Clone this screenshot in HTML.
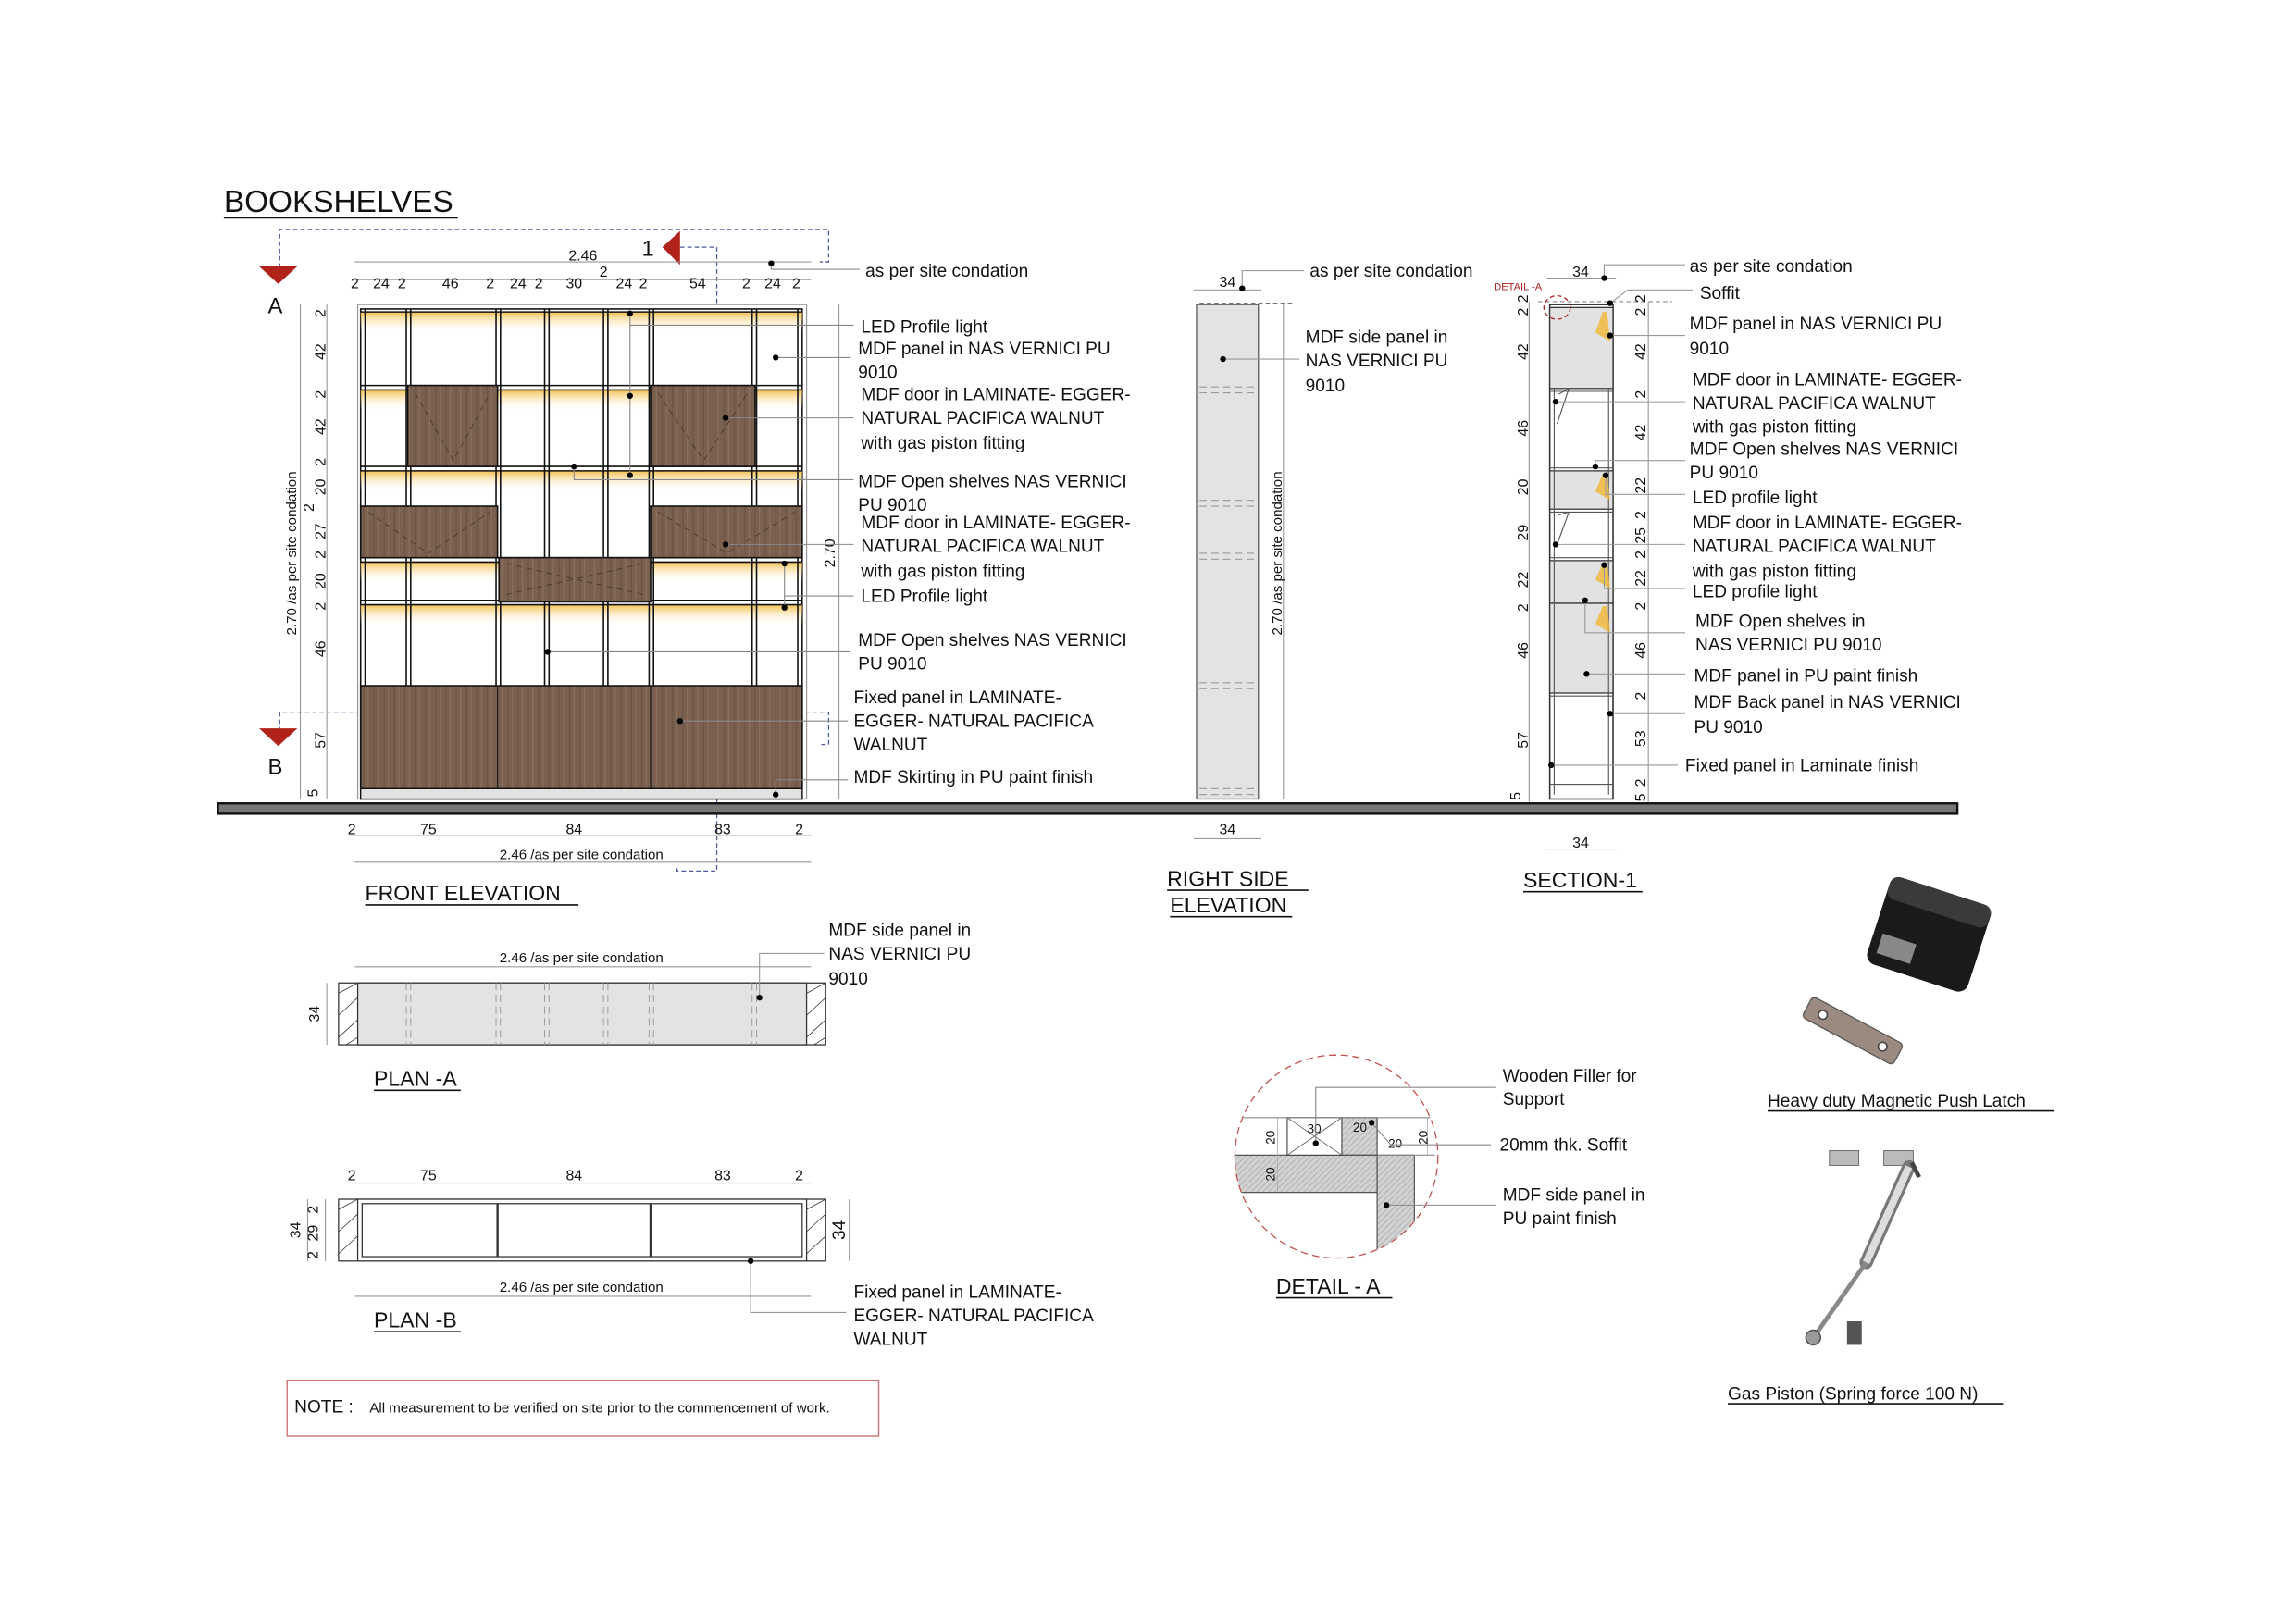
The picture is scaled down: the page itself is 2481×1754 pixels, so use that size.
<!DOCTYPE html>
<html><head><meta charset="utf-8"><style>
html,body{margin:0;padding:0;background:#fff}
svg{display:block}
text{font-family:"Liberation Sans",sans-serif;fill:#111}
</style></head><body>
<svg width="2481" height="1754" viewBox="0 0 1560 1103" xmlns="http://www.w3.org/2000/svg">
<defs>
<linearGradient id="led" x1="0" y1="0" x2="0" y2="1"><stop offset="0" stop-color="#f3c04f"/><stop offset="1" stop-color="#fff" stop-opacity="0"/></linearGradient>
<pattern id="wood" width="7" height="40" patternUnits="userSpaceOnUse"><rect width="7" height="40" fill="#7a604f"/><line x1="2" y1="0" x2="2" y2="40" stroke="#6a5242" stroke-width="0.7"/><line x1="5" y1="0" x2="5" y2="40" stroke="#8a6f5d" stroke-width="0.8"/></pattern>
<pattern id="hatch" width="4" height="4" patternUnits="userSpaceOnUse"><rect width="4" height="4" fill="#d2d2d2"/><line x1="0" y1="4" x2="4" y2="0" stroke="#aaa" stroke-width="0.5"/></pattern>
<clipPath id="circ"><circle cx="908" cy="786" r="69"/></clipPath>
</defs>

<text x="152" y="144" font-size="21">BOOKSHELVES</text>
<line x1="152" y1="148" x2="311" y2="148" stroke="#111" stroke-width="1.2"/>

<g stroke="#4a5a9a" stroke-width="0.8" stroke-dasharray="3,2" fill="none">
<polyline points="190,182 190,156 563,156 563,178 557,178"/>
<polyline points="462,168 487,168 487,592 460,592 460,588"/>
<polyline points="190,497 190,484 563,484 563,506 557,506"/>
</g>
<polygon points="176,181 202,181 189,193" fill="#b0221a"/>
<text x="182" y="213" font-size="15">A</text>
<polygon points="176,495 202,495 189,507" fill="#b0221a"/>
<text x="182" y="526" font-size="15">B</text>
<polygon points="450,168 462,157 462,180" fill="#b0221a"/>
<text x="436" y="174" font-size="15">1</text>

<rect x="148" y="546" width="1182" height="7" fill="#777" stroke="#111" stroke-width="1.5"/>

<rect x="243" y="207" width="305" height="336" fill="#fff" stroke="#999" stroke-width="0.8"/>
<rect x="245" y="210" width="300" height="333" fill="#fff" stroke="#111" stroke-width="1"/>
<g fill="url(#led)">
<rect x="245" y="212" width="300" height="14"/>
<rect x="245" y="265" width="300" height="14"/>
<rect x="245" y="320" width="300" height="14"/>
<rect x="245" y="382" width="300" height="14"/>
<rect x="245" y="411" width="300" height="14"/>
</g>
<g stroke="#111" stroke-width="1">
<line x1="245" y1="262" x2="545" y2="262"/><line x1="245" y1="265" x2="545" y2="265"/>
<line x1="245" y1="317" x2="545" y2="317"/><line x1="245" y1="320" x2="545" y2="320"/>
<line x1="245" y1="379" x2="545" y2="379"/><line x1="245" y1="382" x2="545" y2="382"/>
<line x1="245" y1="408" x2="545" y2="408"/><line x1="245" y1="411" x2="545" y2="411"/>
<line x1="245" y1="212" x2="545" y2="212"/>
</g>
<g stroke="#111" stroke-width="1">
<line x1="276" y1="210" x2="276" y2="466"/><line x1="279" y1="210" x2="279" y2="466"/>
<line x1="337" y1="210" x2="337" y2="466"/><line x1="340" y1="210" x2="340" y2="466"/>
<line x1="370" y1="210" x2="370" y2="466"/><line x1="373" y1="210" x2="373" y2="466"/>
<line x1="410" y1="210" x2="410" y2="466"/><line x1="413" y1="210" x2="413" y2="466"/>
<line x1="441" y1="210" x2="441" y2="466"/><line x1="444" y1="210" x2="444" y2="466"/>
<line x1="511" y1="210" x2="511" y2="466"/><line x1="514" y1="210" x2="514" y2="466"/>
<line x1="248" y1="210" x2="248" y2="466"/><line x1="542" y1="210" x2="542" y2="466"/>
</g>
<g fill="url(#wood)" stroke="#111" stroke-width="1">
<rect x="277" y="262" width="61" height="55"/>
<rect x="442" y="262" width="71" height="55"/>
<rect x="245" y="344" width="93" height="35"/>
<rect x="442" y="344" width="103" height="35"/>
<rect x="339" y="379" width="103" height="30"/>
<rect x="245" y="466" width="300" height="70"/>
</g>
<g stroke="#3a2a20" stroke-width="0.6" stroke-dasharray="4,3" fill="none" opacity="0.7">
<polyline points="282,267 308,313 333,267"/><polyline points="447,267 478,313 508,267"/>
<polyline points="250,348 291,376 333,348"/><polyline points="447,348 494,376 540,348"/>
<polyline points="344,383 437,404"/><polyline points="344,404 437,383"/>
</g>
<line x1="338" y1="466" x2="338" y2="536" stroke="#222" stroke-width="0.8"/>
<line x1="442" y1="466" x2="442" y2="536" stroke="#222" stroke-width="0.8"/>
<rect x="245" y="536" width="300" height="7" fill="#e2e2e2" stroke="#111" stroke-width="0.8"/>

<g stroke="#999" stroke-width="0.7" fill="none">
<line x1="241" y1="178" x2="551" y2="178"/>
<line x1="241" y1="190" x2="551" y2="190"/>
<line x1="204" y1="207" x2="204" y2="543"/>
<line x1="222" y1="207" x2="222" y2="543"/>
<line x1="570" y1="207" x2="570" y2="543"/>
<line x1="237" y1="568" x2="551" y2="568"/>
<line x1="241" y1="586" x2="551" y2="586"/>
</g>
<g font-size="10" text-anchor="middle">
<text x="396" y="177">2.46</text>
<text x="410" y="188">2</text>
<text x="241" y="196">2</text><text x="259" y="196">24</text><text x="273" y="196">2</text>
<text x="306" y="196">46</text><text x="333" y="196">2</text><text x="352" y="196">24</text><text x="366" y="196">2</text>
<text x="390" y="196">30</text><text x="424" y="196">24</text><text x="437" y="196">2</text>
<text x="474" y="196">54</text><text x="507" y="196">2</text><text x="525" y="196">24</text><text x="541" y="196">2</text>
<text x="239" y="567">2</text><text x="291" y="567">75</text><text x="390" y="567">84</text><text x="491" y="567">83</text><text x="543" y="567">2</text>
<text x="395" y="584" font-size="9.5">2.46  /as per site condation</text>
</g>
<g font-size="10" text-anchor="middle">
<text transform="translate(201,376) rotate(-90)" font-size="9.5">2.70 /as per site condation</text>
<text transform="translate(567,376) rotate(-90)">2.70</text>
<text transform="translate(221,213) rotate(-90)">2</text>
<text transform="translate(221,239) rotate(-90)">42</text>
<text transform="translate(221,268) rotate(-90)">2</text>
<text transform="translate(221,290) rotate(-90)">42</text>
<text transform="translate(221,314) rotate(-90)">2</text>
<text transform="translate(221,331) rotate(-90)">20</text>
<text transform="translate(213,345) rotate(-90)">2</text>
<text transform="translate(221,361) rotate(-90)">27</text>
<text transform="translate(221,377) rotate(-90)">2</text>
<text transform="translate(221,395) rotate(-90)">20</text>
<text transform="translate(221,412) rotate(-90)">2</text>
<text transform="translate(221,441) rotate(-90)">46</text>
<text transform="translate(221,503) rotate(-90)">57</text>
<text transform="translate(216,539) rotate(-90)">5</text>
</g>
<text x="248" y="612" font-size="14.5">FRONT  ELEVATION</text>
<line x1="248" y1="615" x2="393" y2="615" stroke="#111"/>

<g stroke="#888" stroke-width="0.7" fill="none">
<polyline points="524,179 524,183 584,183"/>
<polyline points="428,213 428,221 580,221"/><line x1="428" y1="221" x2="428" y2="323"/>
<line x1="527" y1="243" x2="578" y2="243"/>
<line x1="493" y1="284" x2="580" y2="284"/>
<polyline points="390,317 390,326 580,326"/>
<line x1="493" y1="370" x2="580" y2="370"/>
<polyline points="533,383 533,405 580,405"/><line x1="533" y1="405" x2="533" y2="413"/>
<line x1="372" y1="443" x2="578" y2="443"/>
<line x1="462" y1="490" x2="576" y2="490"/>
<polyline points="527,540 527,530 576,530"/>
</g>
<g fill="#000">
<circle cx="524" cy="179" r="2"/><circle cx="428" cy="213" r="2"/><circle cx="428" cy="269" r="2"/><circle cx="428" cy="323" r="2"/>
<circle cx="527" cy="243" r="2"/><circle cx="493" cy="284" r="2"/><circle cx="390" cy="317" r="2"/><circle cx="493" cy="370" r="2"/>
<circle cx="533" cy="383" r="2"/><circle cx="533" cy="413" r="2"/><circle cx="372" cy="443" r="2"/><circle cx="462" cy="490" r="2"/><circle cx="527" cy="540" r="2"/>
</g>
<g font-size="12">
<text x="588" y="188">as per site condation</text>
<text x="585" y="226">LED Profile light</text>
<text x="583" y="241">MDF panel in NAS VERNICI PU</text><text x="583" y="257">9010</text>
<text x="585" y="272">MDF door in LAMINATE- EGGER-</text><text x="585" y="288">NATURAL PACIFICA WALNUT</text><text x="585" y="305">with gas piston fitting</text>
<text x="583" y="331">MDF Open shelves NAS VERNICI</text><text x="583" y="347">PU 9010</text>
<text x="585" y="359">MDF door in LAMINATE- EGGER-</text><text x="585" y="375">NATURAL PACIFICA WALNUT</text><text x="585" y="392">with gas piston fitting</text>
<text x="585" y="409">LED Profile light</text>
<text x="583" y="439">MDF Open shelves NAS VERNICI</text><text x="583" y="455">PU 9010</text>
<text x="580" y="478">Fixed panel in LAMINATE-</text><text x="580" y="494">EGGER- NATURAL PACIFICA</text><text x="580" y="510">WALNUT</text>
<text x="580" y="532">MDF Skirting in PU paint finish</text>
</g>

<rect x="813" y="207" width="42" height="336" fill="#e3e3e3" stroke="#555" stroke-width="0.8"/>
<line x1="815" y1="206" x2="880" y2="206" stroke="#777" stroke-width="0.7" stroke-dasharray="3,2"/>
<g stroke="#999" stroke-width="0.7" stroke-dasharray="5,3">
<line x1="815" y1="263" x2="855" y2="263"/><line x1="815" y1="267" x2="855" y2="267"/>
<line x1="815" y1="340" x2="855" y2="340"/><line x1="815" y1="344" x2="855" y2="344"/>
<line x1="815" y1="376" x2="855" y2="376"/><line x1="815" y1="380" x2="855" y2="380"/>
<line x1="815" y1="464" x2="855" y2="464"/><line x1="815" y1="468" x2="855" y2="468"/>
<line x1="815" y1="536" x2="855" y2="536"/><line x1="815" y1="540" x2="855" y2="540"/>
</g>
<g stroke="#999" stroke-width="0.7" fill="none">
<line x1="811" y1="197" x2="857" y2="197"/>
<line x1="872" y1="206" x2="872" y2="543"/>
<line x1="811" y1="570" x2="857" y2="570"/>
<polyline points="844,196 844,184 886,184"/>
<line x1="831" y1="244" x2="883" y2="244"/>
</g>
<circle cx="844" cy="196" r="2"/><circle cx="831" cy="244" r="2"/>
<g font-size="10" text-anchor="middle">
<text x="834" y="195">34</text><text x="834" y="567">34</text>
<text transform="translate(871,376) rotate(-90)" font-size="9.5">2.70  /as per site condation</text>
</g>
<g font-size="12">
<text x="890" y="188">as per site condation</text>
<text x="887" y="233">MDF side panel in</text><text x="887" y="249">NAS VERNICI PU</text><text x="887" y="266">9010</text>
</g>
<text x="793" y="602" font-size="14.5">RIGHT SIDE</text>
<line x1="793" y1="605" x2="889" y2="605" stroke="#111"/>
<text x="795" y="620" font-size="14.5">ELEVATION</text>
<line x1="795" y1="623" x2="878" y2="623" stroke="#111"/>

<rect x="1053" y="207" width="43" height="336" fill="#fff" stroke="#333" stroke-width="1"/>
<g fill="#e2e2e2" stroke="#333" stroke-width="0.8">
<rect x="1053" y="209" width="43" height="55"/>
<rect x="1053" y="320" width="43" height="26"/>
<rect x="1053" y="381" width="43" height="29"/>
<rect x="1053" y="410" width="43" height="61"/>
</g>
<g stroke="#555" stroke-width="0.7">
<line x1="1056" y1="264" x2="1056" y2="540"/><line x1="1093" y1="264" x2="1093" y2="540"/>
<line x1="1053" y1="266" x2="1096" y2="266"/><line x1="1053" y1="318" x2="1096" y2="318"/>
<line x1="1053" y1="348" x2="1096" y2="348"/><line x1="1053" y1="379" x2="1096" y2="379"/>
<line x1="1053" y1="473" x2="1096" y2="473"/><line x1="1053" y1="533" x2="1096" y2="533"/>
<line x1="1059" y1="268" x2="1066" y2="264"/><line x1="1066" y1="264" x2="1058" y2="288"/>
<line x1="1059" y1="350" x2="1066" y2="348"/><line x1="1066" y1="348" x2="1058" y2="370"/>
</g>
<g fill="#f1b835" opacity="0.8">
<polygon points="1089,212 1092,212 1094,232 1084,226"/>
<polygon points="1089,322 1092,322 1094,340 1084,334"/>
<polygon points="1089,383 1092,383 1094,400 1084,394"/>
<polygon points="1089,412 1092,412 1094,430 1084,424"/>
</g>
<line x1="1045" y1="205" x2="1136" y2="205" stroke="#888" stroke-width="0.7" stroke-dasharray="3,2"/>
<ellipse cx="1058" cy="209" rx="9" ry="8" fill="none" stroke="#b02020" stroke-width="0.8" stroke-dasharray="3,2"/>
<text x="1015" y="197" font-size="7" style="fill:#b02020">DETAIL -A</text>
<g stroke="#999" stroke-width="0.7" fill="none">
<line x1="1051" y1="189" x2="1098" y2="189"/>
<line x1="1051" y1="577" x2="1098" y2="577"/>
<line x1="1039" y1="205" x2="1039" y2="545"/>
<line x1="1120" y1="205" x2="1120" y2="545"/>
<polyline points="1090,189 1090,180 1145,180"/>
<polyline points="1094,206 1106,197 1150,197"/>
<line x1="1094" y1="228" x2="1145" y2="228"/>
<line x1="1057" y1="273" x2="1145" y2="273"/>
<polyline points="1084,317 1084,313 1145,313"/>
<polyline points="1091,323 1091,336 1145,336"/>
<line x1="1057" y1="370" x2="1145" y2="370"/>
<polyline points="1090,384 1090,400 1145,400"/>
<polyline points="1077,408 1077,430 1145,430"/>
<line x1="1078" y1="458" x2="1145" y2="458"/>
<line x1="1094" y1="485" x2="1145" y2="485"/>
<line x1="1054" y1="520" x2="1140" y2="520"/>
</g>
<g fill="#000">
<circle cx="1090" cy="189" r="2"/><circle cx="1094" cy="206" r="2"/><circle cx="1094" cy="228" r="2"/><circle cx="1057" cy="273" r="2"/>
<circle cx="1084" cy="317" r="2"/><circle cx="1091" cy="323" r="2"/><circle cx="1057" cy="370" r="2"/><circle cx="1090" cy="384" r="2"/>
<circle cx="1077" cy="408" r="2"/><circle cx="1078" cy="458" r="2"/><circle cx="1094" cy="485" r="2"/><circle cx="1054" cy="520" r="2"/>
</g>
<g font-size="10" text-anchor="middle">
<text x="1074" y="188">34</text><text x="1074" y="576">34</text>
<text transform="translate(1038,203) rotate(-90)">2</text><text transform="translate(1038,212) rotate(-90)">2</text>
<text transform="translate(1038,239) rotate(-90)">42</text><text transform="translate(1038,291) rotate(-90)">46</text>
<text transform="translate(1038,331) rotate(-90)">20</text><text transform="translate(1038,362) rotate(-90)">29</text>
<text transform="translate(1038,394) rotate(-90)">22</text><text transform="translate(1038,413) rotate(-90)">2</text>
<text transform="translate(1038,442) rotate(-90)">46</text><text transform="translate(1038,503) rotate(-90)">57</text>
<text transform="translate(1033,541) rotate(-90)">5</text>
<text transform="translate(1118,203) rotate(-90)">2</text><text transform="translate(1118,212) rotate(-90)">2</text>
<text transform="translate(1118,239) rotate(-90)">42</text><text transform="translate(1118,268) rotate(-90)">2</text>
<text transform="translate(1118,294) rotate(-90)">42</text><text transform="translate(1118,330) rotate(-90)">22</text>
<text transform="translate(1118,350) rotate(-90)">2</text><text transform="translate(1118,364) rotate(-90)">25</text>
<text transform="translate(1118,377) rotate(-90)">2</text><text transform="translate(1118,393) rotate(-90)">22</text>
<text transform="translate(1118,412) rotate(-90)">2</text><text transform="translate(1118,442) rotate(-90)">46</text>
<text transform="translate(1118,473) rotate(-90)">2</text><text transform="translate(1118,502) rotate(-90)">53</text>
<text transform="translate(1118,532) rotate(-90)">2</text><text transform="translate(1118,542) rotate(-90)">5</text>
</g>
<g font-size="12">
<text x="1148" y="185">as per site condation</text>
<text x="1155" y="203">Soffit</text>
<text x="1148" y="224">MDF panel in NAS VERNICI PU</text><text x="1148" y="241">9010</text>
<text x="1150" y="262">MDF door in  LAMINATE- EGGER-</text><text x="1150" y="278">NATURAL PACIFICA WALNUT</text><text x="1150" y="294">with gas piston fitting</text>
<text x="1148" y="309">MDF Open shelves NAS VERNICI</text><text x="1148" y="325">PU 9010</text>
<text x="1150" y="342">LED profile light</text>
<text x="1150" y="359">MDF door in  LAMINATE- EGGER-</text><text x="1150" y="375">NATURAL PACIFICA WALNUT</text><text x="1150" y="392">with gas piston fitting</text>
<text x="1150" y="406">LED profile light</text>
<text x="1152" y="426">MDF Open shelves in</text><text x="1152" y="442">NAS VERNICI PU 9010</text>
<text x="1151" y="463">MDF panel in PU paint finish</text>
<text x="1151" y="481">MDF Back panel in NAS VERNICI</text><text x="1151" y="498">PU 9010</text>
<text x="1145" y="524">Fixed panel in Laminate finish</text>
</g>
<text x="1035" y="603" font-size="14.5">SECTION-1</text>
<line x1="1035" y1="606" x2="1116" y2="606" stroke="#111"/>

<rect x="230" y="668" width="331" height="42" fill="#fff" stroke="#333" stroke-width="0.8"/>
<rect x="243" y="668" width="305" height="42" fill="#e3e3e3" stroke="#333" stroke-width="0.8"/>
<g stroke="#333" stroke-width="0.5">
<line x1="230" y1="675" x2="243" y2="668"/><line x1="230" y1="690" x2="243" y2="678"/><line x1="230" y1="705" x2="243" y2="693"/><line x1="235" y1="710" x2="243" y2="705"/>
<line x1="548" y1="675" x2="561" y2="668"/><line x1="548" y1="690" x2="561" y2="678"/><line x1="548" y1="705" x2="561" y2="693"/><line x1="553" y1="710" x2="561" y2="705"/>
</g>
<g stroke="#999" stroke-width="0.6" stroke-dasharray="5,3">
<line x1="276" y1="668" x2="276" y2="710"/><line x1="279" y1="668" x2="279" y2="710"/>
<line x1="337" y1="668" x2="337" y2="710"/><line x1="340" y1="668" x2="340" y2="710"/>
<line x1="370" y1="668" x2="370" y2="710"/><line x1="373" y1="668" x2="373" y2="710"/>
<line x1="410" y1="668" x2="410" y2="710"/><line x1="413" y1="668" x2="413" y2="710"/>
<line x1="441" y1="668" x2="441" y2="710"/><line x1="444" y1="668" x2="444" y2="710"/>
<line x1="511" y1="668" x2="511" y2="710"/><line x1="514" y1="668" x2="514" y2="710"/>
</g>
<g stroke="#999" stroke-width="0.7" fill="none">
<line x1="241" y1="657" x2="551" y2="657"/>
<line x1="222" y1="668" x2="222" y2="710"/>
<polyline points="516,678 516,648 560,648"/>
</g>
<circle cx="516" cy="678" r="2"/>
<text x="395" y="654" font-size="9.5" text-anchor="middle">2.46  /as per site condation</text>
<text transform="translate(217,689) rotate(-90)" font-size="10" text-anchor="middle">34</text>
<g font-size="12"><text x="563" y="636">MDF side panel in</text><text x="563" y="652">NAS VERNICI PU</text><text x="563" y="669">9010</text></g>
<text x="254" y="738" font-size="14.5">PLAN -A</text>
<line x1="254" y1="741" x2="313" y2="741" stroke="#111"/>

<rect x="230" y="815" width="331" height="42" fill="#fff" stroke="#333" stroke-width="0.8"/>
<rect x="243" y="815" width="305" height="42" fill="#fff" stroke="#333" stroke-width="0.8"/>
<rect x="246" y="818" width="299" height="36" fill="none" stroke="#333" stroke-width="0.8"/>
<line x1="338" y1="818" x2="338" y2="854" stroke="#333" stroke-width="1.5"/>
<line x1="442" y1="818" x2="442" y2="854" stroke="#333" stroke-width="1.5"/>
<g stroke="#333" stroke-width="0.5">
<line x1="230" y1="822" x2="243" y2="815"/><line x1="230" y1="837" x2="243" y2="825"/><line x1="230" y1="852" x2="243" y2="840"/>
<line x1="548" y1="822" x2="561" y2="815"/><line x1="548" y1="837" x2="561" y2="825"/><line x1="548" y1="852" x2="561" y2="840"/>
</g>
<g stroke="#999" stroke-width="0.7" fill="none">
<line x1="237" y1="804" x2="551" y2="804"/>
<line x1="241" y1="881" x2="551" y2="881"/>
<line x1="209" y1="815" x2="209" y2="857"/><line x1="221" y1="815" x2="221" y2="857"/>
<line x1="577" y1="815" x2="577" y2="857"/>
<polyline points="510,857 510,892 575,892"/>
</g>
<circle cx="510" cy="857" r="2"/>
<g font-size="10" text-anchor="middle">
<text x="239" y="802">2</text><text x="291" y="802">75</text><text x="390" y="802">84</text><text x="491" y="802">83</text><text x="543" y="802">2</text>
<text x="395" y="878" font-size="9.5">2.46  /as per site condation</text>
<text transform="translate(204,836) rotate(-90)">34</text>
<text transform="translate(216,822) rotate(-90)">2</text>
<text transform="translate(216,838) rotate(-90)">29</text>
<text transform="translate(216,853) rotate(-90)">2</text>
<text transform="translate(574,836) rotate(-90)" font-size="12">34</text>
</g>
<g font-size="12"><text x="580" y="882">Fixed panel in  LAMINATE-</text><text x="580" y="898">EGGER- NATURAL PACIFICA</text><text x="580" y="914">WALNUT</text></g>
<text x="254" y="902" font-size="14.5">PLAN -B</text>
<line x1="254" y1="905" x2="313" y2="905" stroke="#111"/>

<rect x="195" y="938" width="402" height="38" fill="none" stroke="#c77" stroke-width="0.9"/>
<text x="200" y="960" font-size="12">NOTE :</text>
<text x="251" y="960" font-size="9.5">All measurement to be verified on site prior to the commencement of work.</text>

<g clip-path="url(#circ)">
<rect x="911.7" y="759.5" width="24" height="25.5" fill="url(#hatch)" stroke="#444" stroke-width="0.7"/>
<rect x="835" y="785" width="100.7" height="25.4" fill="url(#hatch)" stroke="#444" stroke-width="0.7"/>
<rect x="935.7" y="785" width="25.3" height="80" fill="url(#hatch)" stroke="#444" stroke-width="0.7"/>
<rect x="874.6" y="759.5" width="37.1" height="25.5" fill="#fff" stroke="#444" stroke-width="0.7"/>
<line x1="874.6" y1="759.5" x2="911.7" y2="785" stroke="#555" stroke-width="0.5"/>
<line x1="874.6" y1="785" x2="911.7" y2="759.5" stroke="#555" stroke-width="0.5"/>
<line x1="845" y1="759.5" x2="975" y2="759.5" stroke="#888" stroke-width="0.7"/>
<line x1="935.7" y1="785" x2="975" y2="785" stroke="#888" stroke-width="0.7"/>
<line x1="868" y1="759" x2="868" y2="810" stroke="#aaa" stroke-width="0.5"/>
<line x1="970" y1="759" x2="970" y2="785" stroke="#aaa" stroke-width="0.5"/>
</g>
<circle cx="908" cy="786" r="69" fill="none" stroke="#c05050" stroke-width="0.8" stroke-dasharray="5,3"/>
<g font-size="8.5" text-anchor="middle">
<text x="893" y="770">30</text><text x="924" y="769">20</text><text x="948" y="780">20</text>
<text transform="translate(866,773) rotate(-90)">20</text>
<text transform="translate(866,798) rotate(-90)">20</text>
<text transform="translate(970,773) rotate(-90)">20</text>
</g>
<g stroke="#888" stroke-width="0.7" fill="none">
<polyline points="894,777 894,739 1016,739"/>
<polyline points="932,763 945,778 1013,778"/>
<line x1="942" y1="819" x2="1016" y2="819"/>
</g>
<circle cx="894" cy="777" r="2"/><circle cx="932" cy="763" r="2"/><circle cx="942" cy="819" r="2"/>
<g font-size="12">
<text x="1021" y="735">Wooden Filler for</text><text x="1021" y="751">Support</text>
<text x="1019" y="782">20mm thk. Soffit</text>
<text x="1021" y="816">MDF side panel in</text><text x="1021" y="832">PU paint finish</text>
</g>
<text x="867" y="879" font-size="14.5">DETAIL - A</text>
<line x1="867" y1="882" x2="946" y2="882" stroke="#111"/>

<g transform="rotate(18 1310 637)">
<rect x="1274" y="604" width="72" height="62" rx="7" fill="#1a1a1a"/>
<rect x="1274" y="604" width="72" height="16" rx="6" fill="#3a3a3a"/>
<rect x="1280" y="644" width="24" height="14" fill="#888"/>
</g>
<g transform="rotate(28 1258 700)">
<rect x="1224" y="692" width="70" height="16" rx="3" fill="#9a8a80" stroke="#555" stroke-width="0.8"/>
<circle cx="1236" cy="700" r="3" fill="#fff" stroke="#444"/><circle cx="1282" cy="700" r="3" fill="#fff" stroke="#444"/>
</g>
<text x="1201" y="752" font-size="12">Heavy duty Magnetic Push Latch</text>
<line x1="1201" y1="755" x2="1396" y2="755" stroke="#111"/>

<g>
<rect x="1243" y="782" width="20" height="10" fill="#bbb" stroke="#666" stroke-width="0.6"/>
<rect x="1280" y="782" width="20" height="10" fill="#bbb" stroke="#666" stroke-width="0.6"/>
<line x1="1297" y1="793" x2="1268" y2="858" stroke="#777" stroke-width="9" stroke-linecap="round"/>
<line x1="1297" y1="793" x2="1268" y2="858" stroke="#ddd" stroke-width="5"/>
<line x1="1268" y1="858" x2="1235" y2="905" stroke="#888" stroke-width="3"/>
<line x1="1299" y1="790" x2="1304" y2="800" stroke="#444" stroke-width="3"/>
<circle cx="1232" cy="909" r="5" fill="#999" stroke="#555"/>
<rect x="1255" y="898" width="10" height="16" fill="#555"/>
</g>
<text x="1174" y="951" font-size="12">Gas Piston (Spring force 100 N)</text>
<line x1="1174" y1="954" x2="1361" y2="954" stroke="#111"/>
</svg>
</body></html>
